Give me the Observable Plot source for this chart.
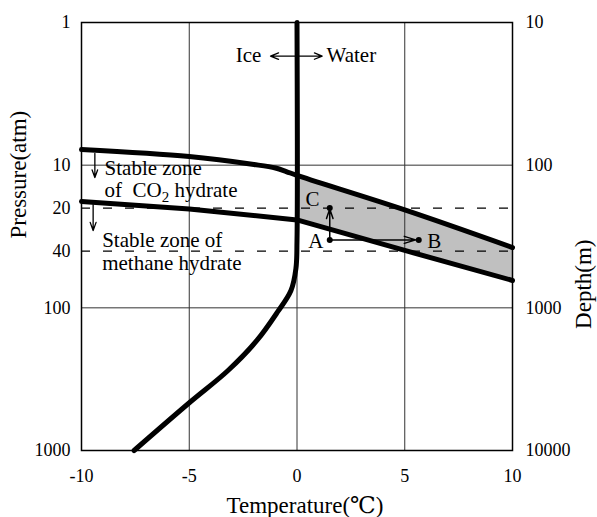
<!DOCTYPE html>
<html><head><meta charset="utf-8">
<script src="https://cdn.jsdelivr.net/npm/d3@7"></script>
<script src="https://cdn.jsdelivr.net/npm/@observablehq/plot@0.6"></script>
<style>body{margin:0;background:#fff} #chart svg{display:block} text{white-space:pre}</style>
</head><body><div id="chart"></div>
<script>
// ---- axes / ticks ----
const xTicks = [-10, -5, 0, 5, 10];
const pressureTicks = [1, 10, 20, 40, 100, 1000];
const depthTickPressures = [1, 10, 100, 1000];
const depthLabels = ["10", "100", "1000", "10000"];
const gridT = [-5, 0, 5];
const gridP = [10, 100];
const dashedP = [20, 40];

// ---- ice / water boundary (T in degC, p in atm) ----
const iceT = [0, 0, -0.05, -0.28, -0.91, -1.86, -3.2, -5.01, -7.56];
const iceP = [1, 33.7, 53.0, 75.6, 107.3, 169.3, 274.9, 464.5, 1000];

// ---- CO2 hydrate boundary ----
const co2T = [-10, -5, -2, -1, -0.5, 0, 5, 10];
const co2P = [7.77, 8.70, 9.89, 10.47, 11.08, 11.81, 20.6, 37.8];

// ---- methane hydrate boundary ----
const ch4T = [-10, -5, 0, 5, 10];
const ch4P = [17.97, 20.3, 24.2, 39.6, 64.3];

// shaded zone between the two boundaries (water side)
const zoneT = [0, 5, 10];

// ---- points A, B, C ----
const ptName = ["A", "B", "C"];
const ptT = [1.52, 5.65, 1.52];
const ptP = [33.4, 33.4, 20];

// ---- annotation texts ----
const noteText = ["Stable zone", "of  CO2 hydrate", "Stable zone of", "methane hydrate", "Ice", "Water", "A", "B", "C"];
const noteT = [-8.93, -8.93, -9.04, -9.04, -1.65, 1.37, 1.23, 6.04, 0.39];
const noteP = [11.8, 16.85, 37.6, 54.7, 1.88, 1.88, 37.8, 37.8, 19.2];
const noteAnchor = ["start", "start", "start", "start", "end", "start", "end", "start", "start"];

// ---- small arrows: [T1, p1, T2, p2] ----
const arrT1 = [-9.38, -9.46, 0, 0];
const arrP1 = [8.28, 18.9, 1.72, 1.72];
const arrT2 = [-9.38, -9.46, -1.23, 1.17];
const arrP2 = [12.2, 28.7, 1.72, 1.72];

const font = "'Liberation Serif','Times New Roman','DejaVu Serif',serif";

const iceData = iceT.map((t, i) => ({t, p: iceP[i]}));
const co2Data = co2T.map((t, i) => ({t, p: co2P[i]}));
const ch4Data = ch4T.map((t, i) => ({t, p: ch4P[i]}));
const zoneData = zoneT.map(t => ({t, top: co2P[co2T.indexOf(t)], bottom: ch4P[ch4T.indexOf(t)]}));
const ptData = ptName.map((n, i) => ({n, t: ptT[i], p: ptP[i]}));
const noteData = noteText.map((s, i) => ({s, t: noteT[i], p: noteP[i], a: noteAnchor[i]}));
const arrData = arrT1.map((t, i) => ({x1: t, y1: arrP1[i], x2: arrT2[i], y2: arrP2[i]}));

const plot = Plot.plot({
  width: 597, height: 517,
  marginLeft: 81, marginRight: 85, marginTop: 22, marginBottom: 67,
  style: {fontFamily: font, fontSize: "18px", background: "#fff", color: "#000"},
  x: {domain: [-10, 10]},
  y: {type: "log", domain: [1, 1000], reverse: true},
  marks: [
    Plot.areaY(zoneData, {x: "t", y1: "top", y2: "bottom", fill: "#c0c0c0"}),
    Plot.gridX(gridT, {stroke: "#333", strokeOpacity: 1, strokeWidth: 1}),
    Plot.gridY(gridP, {stroke: "#333", strokeOpacity: 1, strokeWidth: 1}),
    Plot.ruleY(dashedP, {stroke: "#000", strokeWidth: 1.3, strokeDasharray: "9,13"}),
    Plot.line(iceData, {x: "t", y: "p", stroke: "#000", strokeWidth: 5, curve: "catmull-rom"}),
    Plot.line(co2Data, {x: "t", y: "p", stroke: "#000", strokeWidth: 5, curve: "catmull-rom"}),
    Plot.line(ch4Data, {x: "t", y: "p", stroke: "#000", strokeWidth: 5, curve: "linear"}),
    Plot.frame({stroke: "#000", strokeWidth: 1.5}),
    Plot.axisX(xTicks, {tickSize: 0, tickPadding: 19, label: null, tickFormat: d => String(d)}),
    Plot.axisY(pressureTicks, {anchor: "left", tickSize: 0, tickPadding: 11, label: null, tickFormat: d => String(d)}),
    Plot.axisY(depthTickPressures, {anchor: "right", tickSize: 0, tickPadding: 13, label: null,
      tickFormat: d => depthLabels[depthTickPressures.indexOf(d)]}),
    Plot.text(["Temperature(℃)"], {frameAnchor: "bottom", dx: 8, dy: 62, lineAnchor: "bottom", fontSize: 23, fontFamily: font}),
    Plot.text(["Pressure(atm)"], {frameAnchor: "left", dx: -63, dy: 2, rotate: -90, lineAnchor: "middle", fontSize: 23, fontFamily: font}),
    Plot.text(["Depth(m)"], {frameAnchor: "right", dx: 71, dy: 3, rotate: -90, lineAnchor: "middle", fontSize: 23, fontFamily: font}),
    Plot.arrow(arrData.slice(0, 2), {x1: "x1", y1: "y1", x2: "x2", y2: "y2", stroke: "#000", strokeWidth: 1.3, headLength: 10, headAngle: 40}),
    Plot.arrow(arrData.slice(2), {x1: "x1", y1: "y1", x2: "x2", y2: "y2", stroke: "#000", strokeWidth: 1.3, headLength: 10, headAngle: 44}),
    Plot.arrow([ptData[0]], {x1: "t", y1: "p", x2: () => ptData[2].t, y2: () => ptData[2].p, stroke: "#000", strokeWidth: 1.5, headLength: 10, headAngle: 38, insetEnd: 1}),
    Plot.arrow([ptData[0]], {x1: "t", y1: "p", x2: () => ptData[1].t, y2: () => ptData[1].p, stroke: "#000", strokeWidth: 1.5, headLength: 12, headAngle: 34, insetEnd: 3}),
    Plot.dot(ptData, {x: "t", y: "p", r: 3, fill: "#000", stroke: null}),
    Plot.text(noteData.filter(d => d.a === "start"), {x: "t", y: "p", text: "s", textAnchor: "start", lineAnchor: "bottom", fontSize: 21, fontFamily: font, fill: "#000"}),
    Plot.text(noteData.filter(d => d.a === "end"), {x: "t", y: "p", text: "s", textAnchor: "end", lineAnchor: "bottom", fontSize: 21, fontFamily: font, fill: "#000"})
  ]
});

// subscript for CO2
plot.querySelectorAll("text").forEach(el => {
  if (el.textContent === "of  CO2 hydrate") {
    el.textContent = "";
    const ns = "http://www.w3.org/2000/svg";
    const a = document.createElementNS(ns, "tspan"); a.textContent = "of  CO";
    const b = document.createElementNS(ns, "tspan"); b.textContent = "2"; b.setAttribute("dy", "5"); b.setAttribute("font-size", "15");
    const c = document.createElementNS(ns, "tspan"); c.textContent = " hydrate"; c.setAttribute("dy", "-5");
    el.append(a, b, c);
  }
});
document.getElementById("chart").append(plot);
</script>
</body></html>
